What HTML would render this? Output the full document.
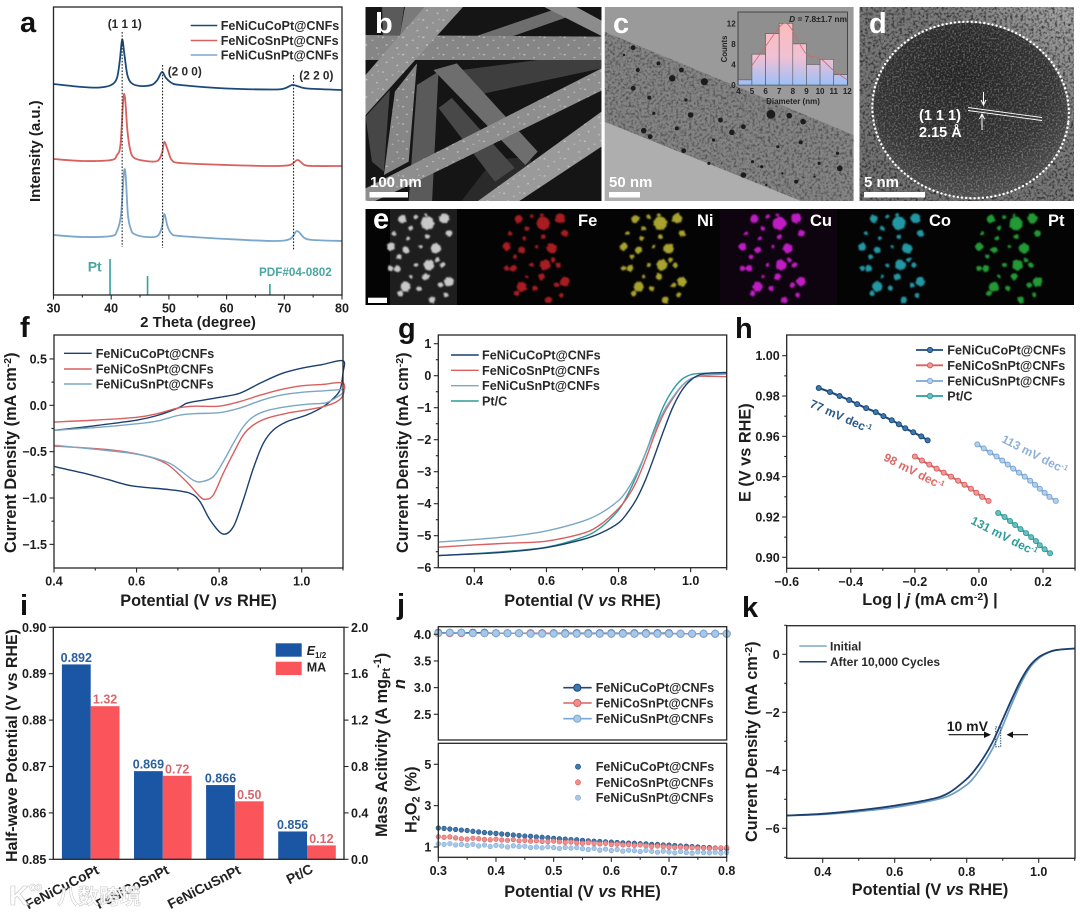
<!DOCTYPE html>
<html lang="en">
<head>
<meta charset="utf-8">
<title>FeNiCu alloy nanofiber catalyst characterization figure</title>
<style>
html,body{margin:0;padding:0;background:#fff;}
#figure{display:block;filter:blur(.35px);font-family:"Liberation Sans","Noto Sans CJK SC",sans-serif;font-weight:bold;}
.leg{font-size:12.6px;fill:#2a2a2a;}
.ttl{font-size:16.3px;fill:#1d1d1d;}
.tick{font-size:12.5px;fill:#1d1d1d;}
.let{font-size:29px;fill:#111;}
.letw{font-size:29px;fill:#fff;}
.wtxt{font-size:15px;fill:#fff;}
.el{font-size:16.5px;fill:#fff;}
</style>
</head>
<body>
<svg id="figure" xmlns="http://www.w3.org/2000/svg" width="1080" height="915" viewBox="0 0 1080 915">
<defs>
  <clipPath id="clipB"><rect x="365.500" y="7" width="236" height="194"/></clipPath>
  <clipPath id="clipC"><rect x="604.700" y="7" width="249" height="194"/></clipPath>
  <clipPath id="clipBand"><polygon points="604.700,31.700 853.600,135 853.600,201 801,201 604.700,121.700"/></clipPath>
  <clipPath id="clipD"><rect x="859.500" y="7" width="214.500" height="194"/></clipPath>
  <clipPath id="clipE"><rect x="365.500" y="209" width="708.500" height="96"/></clipPath>
  <clipPath id="clipDot"><ellipse cx="970.600" cy="110" rx="97" ry="87" transform="rotate(8 970.600 110)"/></clipPath>
  <pattern id="semDots" width="44" height="52" patternUnits="userSpaceOnUse">
    <circle cx="6" cy="8" r="2.400" fill="#dcdcdc"/><circle cx="27" cy="17" r="2.100" fill="#d4d4d4"/>
    <circle cx="14" cy="31" r="2.300" fill="#e0e0e0"/><circle cx="37" cy="40" r="2.400" fill="#d8d8d8"/>
    <circle cx="40" cy="6" r="1.800" fill="#d0d0d0"/>
  </pattern>
  <filter id="grainDark" x="0" y="0" width="100%" height="100%">
    <feTurbulence type="fractalNoise" baseFrequency=".38" numOctaves="2" seed="4"/>
    <feColorMatrix values="0 0 0 0 0  0 0 0 0 0  0 0 0 0 0  2.400 0 0 0 -1.050"/>
  </filter>
  <filter id="grainLight" x="0" y="0" width="100%" height="100%">
    <feTurbulence type="fractalNoise" baseFrequency=".55" numOctaves="2" seed="9"/>
    <feColorMatrix values="0 0 0 0 1  0 0 0 0 1  0 0 0 0 1  3 0 0 0 -1.350"/>
  </filter>
  <filter id="rough" x="-5%" y="-5%" width="110%" height="110%">
    <feTurbulence type="fractalNoise" baseFrequency=".35" numOctaves="2" seed="6" result="n"/>
    <feDisplacementMap in="SourceGraphic" in2="n" scale="3" xChannelSelector="R" yChannelSelector="G"/>
    <feGaussianBlur stdDeviation=".85"/>
  </filter>
  <radialGradient id="coreGrad" cx=".42" cy=".3" r=".8">
    <stop offset="0" stop-color="#222"/><stop offset=".6" stop-color="#333"/><stop offset="1" stop-color="#555"/>
  </radialGradient>
  <linearGradient id="dBack" x1="0" y1="1" x2="1" y2="0">
    <stop offset="0" stop-color="#707070"/><stop offset=".7" stop-color="#7c7c7c"/><stop offset="1" stop-color="#a8a8a8"/>
  </linearGradient>
  <linearGradient id="histGrad" gradientUnits="userSpaceOnUse" x1="0" y1="23" x2="0" y2="85">
    <stop offset="0" stop-color="#fcbcbc"/><stop offset=".55" stop-color="#f0c0d4"/><stop offset="1" stop-color="#9cc0f8"/>
  </linearGradient>
</defs>

<rect width="1080" height="915" fill="#fff"/>

<!-- Panel a -->
<g id="panelA">
  <text class="let" x="20" y="32">a</text>
  <text class="ttl" transform="translate(40 202) rotate(-90)" style="font-size:15px">Intensity (a.u.)</text>
  <text class="ttl" x="198" y="327" text-anchor="middle" style="font-size:15px">2 Theta (degree)</text>
  <text x="107.700" y="28" style="font-size:11.800px" fill="#2a2a2a">(1 1 1)</text>
  <text x="167.700" y="75.300" style="font-size:11.800px" fill="#2a2a2a">(2 0 0)</text>
  <text x="299.300" y="79.300" style="font-size:11.800px" fill="#2a2a2a">(2 2 0)</text>
  <text x="87.700" y="271.700" style="font-size:14px" fill="#4aa6a2">Pt</text>
  <text x="259" y="276" style="font-size:11.700px" fill="#4aa6a2">PDF#04-0802</text>
  <g>
    <line x1="190.700" x2="217.300" y1="25.500" y2="25.500" stroke="#1b4a7a" stroke-width="1.600"/>
    <text class="leg" x="220.700" y="30">FeNiCuCoPt@CNFs</text>
    <line x1="190.700" x2="217.300" y1="40.500" y2="40.500" stroke="#d9605f" stroke-width="1.600"/>
    <text class="leg" x="220.700" y="45">FeNiCoSnPt@CNFs</text>
    <line x1="190.700" x2="217.300" y1="55" y2="55" stroke="#7ba7cc" stroke-width="1.600"/>
    <text class="leg" x="220.700" y="59.500">FeNiCuSnPt@CNFs</text>
  </g>
</g>

<!-- Panel b -->
<g>
  <g clip-path="url(#clipB)">
    <rect x="365" y="7" width="237" height="194" fill="#151515"/>
    <g transform="translate(360 0) scale(.4591 .3333)">
      <polygon points="222,210 387,180 526,180 526,205 255,285" fill="#3e3e3e"/>
      <polygon points="220,605 290,480 370,470 380,520 300,605" fill="#2a2a2a"/>
      <polygon points="250,110 430,25 462,46 330,110" fill="#6e6e6e"/>
      <polygon points="400,20 470,20 526,62 526,108" fill="#8c8c8c"/>
      <polygon points="48,20 96,20 87,105 50,105" fill="#5a5a5a"/>
      <polygon points="98,20 141,20 98,105 87,105" fill="#7a7a7a"/>
      <polygon points="12,350 65,270 52,515 26,485" fill="#464646"/>
      <polygon points="171,324 200,294 337,504 294,545" fill="#484848"/>
      <polygon points="124,255 171,215 157,605 106,605" fill="#5a5a5a"/>
      <polygon points="160,210 211,190 387,455 360,495" fill="#6e6e6e"/>
      <polygon points="76,275 124,190 106,485 52,525" fill="#868686"/>
      <polygon points="12,105 526,110 526,180 12,180" fill="#868686"/>
      <polygon points="141,20 225,20 12,345 12,225" fill="#929292"/>
      <polygon points="526,205 526,272 100,560 30,605 12,605 12,565" fill="#8e8e8e"/>
      <polygon points="526,335 526,440 345,605 255,605" fill="#9a9a9a"/>
      <g fill="url(#semDots)" opacity=".6">
        <polygon points="12,105 526,110 526,180 12,180"/>
        <polygon points="141,20 225,20 12,345 12,225"/>
        <polygon points="526,205 526,272 100,560 30,605 12,605 12,565"/>
        <polygon points="526,335 526,440 345,605 255,605"/>
        <polygon points="76,275 124,190 106,485 52,525"/>
      </g>
    </g>
  </g>
  <text class="letw" x="375" y="33">b</text>
  <text class="wtxt" x="370" y="187">100 nm</text>
  <rect x="369.500" y="192" width="38.500" height="5.500" fill="#fff"/>
</g>

<!-- Panel c -->
<g id="panelC">
  <g clip-path="url(#clipC)">
    <rect x="604.700" y="7" width="249" height="194" fill="#9a9a9a"/>
    <polygon points="604.700,121.700 801,201 604.700,201" fill="#aeaeae"/>
    <polygon points="604.700,31.700 853.600,135 853.600,201 801,201 604.700,121.700" fill="#848484"/>
    <g clip-path="url(#clipBand)"><rect x="604.700" y="7" width="249" height="194" fill="#000" filter="url(#grainDark)" opacity=".45"/></g>
    <g id="temParticles"></g>
  </g>
  <text class="letw" x="613" y="33">c</text>
  <text class="wtxt" x="609" y="187">50 nm</text>
  <rect x="609" y="192" width="31" height="5.500" fill="#fff"/>
  <g id="histInset">
    <rect x="738" y="12" width="109.500" height="73" fill="#8f8f8f" stroke="#333" stroke-width=".8"/>
    <text x="847" y="22" text-anchor="end" style="font-size:8.300px" fill="#222"><tspan font-style="italic">D</tspan> = 7.8±1.7 nm</text>
    <text x="793" y="104" text-anchor="middle" style="font-size:8px" fill="#222">Diameter (nm)</text>
    <text text-anchor="middle" transform="translate(727 49) rotate(-90)" style="font-size:7.800px" fill="#222">Counts</text>
  </g>
</g>

<!-- Panel d -->
<g>
  <g clip-path="url(#clipD)">
    <rect x="859.500" y="7" width="214.500" height="194" fill="url(#dBack)"/>
    <rect x="859.500" y="7" width="214.500" height="194" fill="#000" filter="url(#grainDark)" opacity=".7"/>
    <ellipse cx="970.600" cy="110" rx="97" ry="87" transform="rotate(8 970.600 110)" fill="url(#coreGrad)"/>
    <g clip-path="url(#clipDot)"><rect x="859.500" y="7" width="214.500" height="194" fill="#fff" filter="url(#grainLight)" opacity=".3"/></g>
    <ellipse cx="970.600" cy="110" rx="98.500" ry="88" transform="rotate(8 970.600 110)" fill="none" stroke="#fff" stroke-width="2.300" stroke-linecap="round" stroke-dasharray="0.1 4.100"/>
  </g>
  <text class="letw" x="869" y="33">d</text>
  <text class="wtxt" x="864" y="187">5 nm</text>
  <rect x="864" y="192" width="61" height="5.500" fill="#fff"/>
  <line x1="968" y1="107.500" x2="1042" y2="117.500" stroke="#fff" stroke-width=".9"/>
  <line x1="968" y1="110.500" x2="1042" y2="120.500" stroke="#fff" stroke-width=".9"/>
  <path d="M983.500 92V104M981 100L983.500 105L986 100" fill="none" stroke="#fff" stroke-width="1"/>
  <path d="M982 130V115M979.500 119L982 114L984.500 119" fill="none" stroke="#fff" stroke-width="1"/>
  <text class="wtxt" x="919" y="120" style="font-size:14.500px">(1 1 1)</text>
  <text class="wtxt" x="919" y="137" style="font-size:14.500px">2.15 Å</text>
</g>

<!-- Panel e -->
<g id="panelE">
  <g clip-path="url(#clipE)">
    <rect x="365.500" y="209" width="708.500" height="96" fill="#040404"/>
    <rect x="390" y="209" width="67" height="96" fill="#1e1e1e"/>
    <rect x="720" y="209" width="117" height="96" fill="#0e040f"/>
    <g id="mapBlobs"></g>
  </g>
  <text class="letw" x="373" y="228.500">e</text>
  <rect x="368" y="297.700" width="19" height="5.300" fill="#fff"/>
  <text class="el" x="578" y="226">Fe</text>
  <text class="el" x="697" y="226">Ni</text>
  <text class="el" x="810" y="226">Cu</text>
  <text class="el" x="929" y="226">Co</text>
  <text class="el" x="1048" y="226">Pt</text>
</g>

<!-- Panel f -->
<g id="panelF">
  <text class="let" x="20" y="337">f</text>
  <text class="ttl" transform="translate(16 553) rotate(-90)">Current Density (mA cm<tspan dy="-5" font-size="10.500">-2</tspan><tspan dy="5">)</tspan></text>
  <text class="ttl" x="198.500" y="606" text-anchor="middle">Potential (V <tspan font-style="italic">vs</tspan> RHE)</text>
  <g>
    <line x1="64" x2="91.700" y1="353.300" y2="353.300" stroke="#1b3f6e" stroke-width="1.400"/>
    <text class="leg" x="95.700" y="358">FeNiCuCoPt@CNFs</text>
    <line x1="64" x2="91.700" y1="369" y2="369" stroke="#d9605f" stroke-width="1.400"/>
    <text class="leg" x="95.700" y="373.500">FeNiCoSnPt@CNFs</text>
    <line x1="64" x2="91.700" y1="384" y2="384" stroke="#7ba7c4" stroke-width="1.400"/>
    <text class="leg" x="95.700" y="388.700">FeNiCuSnPt@CNFs</text>
  </g>
</g>

<!-- Panel g -->
<g id="panelG">
  <text class="let" x="398" y="338">g</text>
  <text class="ttl" transform="translate(408 553) rotate(-90)">Current Density (mA cm<tspan dy="-5" font-size="10.500">-2</tspan><tspan dy="5">)</tspan></text>
  <text class="ttl" x="582.500" y="606" text-anchor="middle">Potential (V <tspan font-style="italic">vs</tspan> RHE)</text>
  <g>
    <line x1="451" x2="478.700" y1="355" y2="355" stroke="#1b3f6e" stroke-width="1.400"/>
    <text class="leg" x="482" y="359.500">FeNiCuCoPt@CNFs</text>
    <line x1="451" x2="478.700" y1="370.300" y2="370.300" stroke="#d9605f" stroke-width="1.400"/>
    <text class="leg" x="482" y="374.800">FeNiCoSnPt@CNFs</text>
    <line x1="451" x2="478.700" y1="385.700" y2="385.700" stroke="#7ba7c4" stroke-width="1.400"/>
    <text class="leg" x="482" y="390.200">FeNiCuSnPt@CNFs</text>
    <line x1="451" x2="478.700" y1="401" y2="401" stroke="#2f9c9a" stroke-width="1.400"/>
    <text class="leg" x="482" y="405.500">Pt/C</text>
  </g>
</g>

<!-- Panel h -->
<g id="panelH">
  <text class="let" x="735" y="338">h</text>
  <text class="ttl" transform="translate(750.700 502) rotate(-90)">E (V vs RHE)</text>
  <text class="ttl" x="930" y="605" text-anchor="middle">Log | <tspan font-style="italic">j</tspan> (mA cm<tspan dy="-5" font-size="10.500">-2</tspan><tspan dy="5">) |</tspan></text>
  <g>
    <line x1="916" x2="943" y1="350" y2="350" stroke="#1b4a7a" stroke-width="1.800"/>
    <circle cx="930" cy="350" r="2.600" fill="#3f78ad" stroke="#1b4a7a"/>
    <text class="leg" x="947.300" y="354.500">FeNiCuCoPt@CNFs</text>
    <line x1="916" x2="943" y1="365.300" y2="365.300" stroke="#d9605f" stroke-width="1.800"/>
    <circle cx="930" cy="365.300" r="2.600" fill="#ee9a98" stroke="#d9605f"/>
    <text class="leg" x="947.300" y="369.800">FeNiCoSnPt@CNFs</text>
    <line x1="916" x2="943" y1="381" y2="381" stroke="#7ba7d4" stroke-width="1.800"/>
    <circle cx="930" cy="381" r="2.600" fill="#b6d0ea" stroke="#7ba7d4"/>
    <text class="leg" x="947.300" y="385.500">FeNiCuSnPt@CNFs</text>
    <line x1="916" x2="943" y1="396" y2="396" stroke="#2f9c9a" stroke-width="1.800"/>
    <circle cx="930" cy="396" r="2.600" fill="#6cc0be" stroke="#2f9c9a"/>
    <text class="leg" x="947.300" y="400.500">Pt/C</text>
  </g>
  <text transform="translate(809 406.700) rotate(24)" style="font-size:12px" fill="#2a5a8a">77 mV dec<tspan dy="-4" font-size="7.500">-1</tspan></text>
  <text transform="translate(882.700 460) rotate(27)" style="font-size:12px" fill="#dc6a68">98 mV dec<tspan dy="-4" font-size="7.500">-1</tspan></text>
  <text transform="translate(1000.700 441.700) rotate(27)" style="font-size:12px" fill="#8fb0d6">113 mV dec<tspan dy="-4" font-size="7.500">-1</tspan></text>
  <text transform="translate(970 523.300) rotate(27)" style="font-size:12px" fill="#2f9c9a">131 mV dec<tspan dy="-4" font-size="7.500">-1</tspan></text>
</g>

<!-- Panel i -->
<g id="panelI">
  <text class="let" x="20" y="615">i</text>
  <text class="ttl" transform="translate(17 862) rotate(-90)" style="font-size:16px">Half-wave Potential (V vs RHE)</text>
  <text class="ttl" transform="translate(387 837) rotate(-90)">Mass Acitivity (A mg<tspan dy="3" font-size="11">Pt</tspan><tspan dy="-9" font-size="11">-1</tspan><tspan dy="6">)</tspan></text>
  <g>
    <rect x="275.700" y="643.300" width="26" height="13.400" fill="#1a56a4"/>
    <text x="306.700" y="655" style="font-size:12.500px" fill="#222"><tspan font-style="italic">E</tspan><tspan dy="3" font-size="8">1/2</tspan></text>
    <rect x="275.700" y="661.700" width="26" height="13.400" fill="#f9555a"/>
    <text x="306.700" y="671.700" style="font-size:12.500px" fill="#222">MA</text>
  </g>
  <text transform="translate(100 873) rotate(-27)" text-anchor="end" style="font-size:13.800px" fill="#222">FeNiCuCoPt</text>
  <text transform="translate(170 873) rotate(-27)" text-anchor="end" style="font-size:13.800px" fill="#222">FeNiCoSnPt</text>
  <text transform="translate(241.700 873) rotate(-27)" text-anchor="end" style="font-size:13.800px" fill="#222">FeNiCuSnPt</text>
  <text transform="translate(314 872) rotate(-27)" text-anchor="end" style="font-size:13.800px" fill="#222">Pt/C</text>
</g>

<!-- Panel j -->
<g id="panelJ">
  <text class="let" x="397" y="614">j</text>
  <text class="ttl" transform="translate(405 684) rotate(-90)" text-anchor="middle" font-style="italic">n</text>
  <text class="ttl" transform="translate(416.700 833) rotate(-90)">H<tspan dy="3" font-size="11">2</tspan><tspan dy="-3">O</tspan><tspan dy="3" font-size="11">2</tspan><tspan dy="-3"> (%)</tspan></text>
  <text class="ttl" x="582.500" y="897" text-anchor="middle">Potential (V <tspan font-style="italic">vs</tspan> RHE)</text>
</g>

<!-- Panel k -->
<g id="panelK">
  <text class="let" x="742" y="617">k</text>
  <text class="ttl" transform="translate(757 842) rotate(-90)">Current Density (mA cm<tspan dy="-5" font-size="10.500">-2</tspan><tspan dy="5">)</tspan></text>
  <text class="ttl" x="930" y="895" text-anchor="middle">Potential (V <tspan font-style="italic">vs</tspan> RHE)</text>
  <g>
    <line x1="799.300" x2="826.700" y1="646" y2="646" stroke="#7ba7c4" stroke-width="1.500"/>
    <text class="leg" x="830" y="650.500" style="font-size:12px">Initial</text>
    <line x1="799.300" x2="826.700" y1="661.700" y2="661.700" stroke="#1b3f6e" stroke-width="1.500"/>
    <text class="leg" x="830" y="666.200" style="font-size:12px">After 10,000 Cycles</text>
  </g>
  <text x="946.700" y="731" style="font-size:14px" fill="#1d1d1d">10 mV</text>
</g>

<!-- Watermark -->
<g opacity=".88">
  <text x="9" y="905" style="font-size:28px" fill="#fff" stroke="#bbb" stroke-width=".6">K</text>
  <text x="29" y="893" style="font-size:19px" fill="#fff" stroke="#bbb" stroke-width=".5">∞</text>
  <text x="57" y="904" style="font-size:21px" fill="#fff" stroke="#bbb" stroke-width=".5">八数跨境</text>
</g>
</svg>

<script>
/* ---------- Panel a: XRD ---------- */
const xrdAngleBlue = [30,35,38,40,41,41.5,41.9,42.3,42.8,43.5,45,47,48,48.8,49.5,50.5,52,60,68,70,71.4,72.5,74,80];
const xrdIntensityBlue = [211,208,207.5,210,217,235,255.5,240,220,212,209,210,215,223,217,212,210,206.5,205.5,206.5,210,208.5,206.5,205];
const xrdAngleRed = [30,35,40,41,41.6,42.1,42.4,42.8,43.3,44,46,48,48.8,49.2,49.8,50.5,52,60,68,71,72.3,73.5,75,80];
const xrdIntensityRed = [136,134,135,140,150,196,197,165,145,137,134,134,142,153,145,135,132,130,129,130,135,130,129,129];
const xrdAngleLight = [30,35,40,41,41.7,42.2,42.5,42.9,43.4,44,46,48,48.8,49.2,49.8,50.5,52,60,68,71,72.2,73.5,75,80];
const xrdIntensityLight = [60,58,59,64,80,122,120,80,66,61,58,59,68,81,68,61,59,56,54,56,64,57,55,54];
const xrdPeakAngles = [41.9,48.9,71.6];
const xrdPeakTops = [263,230,220];
const xrdPeakBottoms = [48,47,45];
const ptRefAngles = [39.8,46.3,67.5];
const ptRefHeights = [36,19,11];
const aTicksX = [30,40,50,60,70,80];
const aLabelsX = ['30','40','50','60','70','80'];
const aMinorX = [35,45,55,65,75];

/* ---------- Panel c inset ---------- */
const histBinStarts = [4,5,6,7,8,9,10,11];
const histCounts = [1,6,10,12,8,4,5,2];
const histFitBins = [5,6,7,7.5,8,9,10,11,12];
const histFitCounts = [3.8,7.5,11.2,12,10.5,6,5.2,2.8,1];
const histTicksX = [4,5,6,7,8,9,10,11,12];
const histTicksY = [0,4,8,12];

/* ---------- Panel f: CV ---------- */
const cvVBlue = [0.4,0.5,0.6,0.65,0.7,0.72,0.74,0.8,0.85,0.9,0.95,1.0,1.05,1.1,1.1,1.0928,1.0766,1.052,1.012,0.9637,0.9313,0.907,0.8828,0.8586,0.8344,0.8087,0.778,0.7537,0.73,0.68,0.59,0.53,0.47,0.4];
const cvJBlue = [-0.27,-0.22,-0.16,-0.11,-0.03,0.02,0.04,0.085,0.13,0.24,0.34,0.40,0.44,0.48,0.35,0.165,0.075,-0.015,-0.105,-0.177,-0.266,-0.41,-0.68,-1.02,-1.31,-1.388,-1.237,-1.04,-0.95,-0.91,-0.87,-0.80,-0.73,-0.66];
const cvVRed = [0.4,0.5,0.6,0.65,0.7,0.74,0.8,0.85,0.9,0.95,1.0,1.05,1.1,1.1,1.085,1.052,1.012,0.9637,0.9152,0.8828,0.8586,0.8344,0.81,0.786,0.768,0.7537,0.72,0.672,0.616,0.535,0.4];
const cvJRed = [-0.18,-0.16,-0.13,-0.09,-0.03,-0.01,-0.01,0.04,0.11,0.17,0.21,0.225,0.24,0.11,0.04,-0.015,-0.05,-0.086,-0.14,-0.2125,-0.32,-0.518,-0.734,-0.968,-1.014,-0.986,-0.82,-0.63,-0.54,-0.48,-0.44];
const cvVLight = [0.4,0.5,0.6,0.65,0.7,0.74,0.8,0.85,0.9,0.95,1.0,1.05,1.1,1.1,1.093,1.06,1.02,0.9637,0.9152,0.8828,0.8586,0.8344,0.81,0.786,0.7578,0.738,0.705,0.672,0.59,0.4];
const cvJLight = [-0.27,-0.24,-0.20,-0.17,-0.11,-0.09,-0.08,-0.03,0.05,0.11,0.14,0.155,0.17,0.14,0.11,0.028,0.014,-0.015,-0.058,-0.123,-0.23,-0.41,-0.608,-0.77,-0.824,-0.81,-0.70,-0.61,-0.52,-0.43];
const fTicksX = [0.4,0.6,0.8,1.0];
const fLabelsX = ['0.4','0.6','0.8','1.0'];
const fMinorX = [0.5,0.7,0.9,1.1];
const fTicksY = [0.5,0,-0.5,-1,-1.5];
const fLabelsY = ['0.5','0.0','−0.5','−1.0','−1.5'];
const fMinorY = [0.25,-0.25,-0.75,-1.25];

/* ---------- Panel g: LSV ---------- */
const lsvPotential = [0.3,0.4,0.5,0.6,0.7,0.75,0.8,0.825,0.85,0.875,0.9,0.925,0.95,0.975,1.0,1.025,1.05,1.1];
const lsvBlue = [-5.62,-5.57,-5.50,-5.37,-5.12,-4.92,-4.6,-4.28,-3.85,-3.25,-2.5,-1.72,-1.0,-0.47,-0.14,0.03,0.08,0.10];
const lsvRed = [-5.36,-5.29,-5.23,-5.17,-4.93,-4.65,-4.15,-3.8,-3.3,-2.62,-1.85,-1.2,-0.72,-0.33,-0.10,-0.02,-0.02,-0.03];
const lsvLight = [-5.2,-5.12,-5.02,-4.85,-4.55,-4.3,-3.9,-3.55,-3.05,-2.42,-1.72,-1.12,-0.68,-0.32,-0.10,0,0.03,0.05];
const lsvPtC = [-5.62,-5.56,-5.48,-5.36,-5.05,-4.75,-4.2,-3.72,-3.12,-2.42,-1.65,-0.95,-0.45,-0.12,0.03,0.07,0.08,0.08];
const gTicksX = [0.4,0.6,0.8,1.0];
const gLabelsX = ['0.4','0.6','0.8','1.0'];
const gMinorX = [0.5,0.7,0.9,1.1];
const gTicksY = [1,0,-1,-2,-3,-4,-5,-6];
const gLabelsY = ['1','0','−1','−2','−3','−4','−5','−6'];
const gMinorY = [0.5,-0.5,-1.5,-2.5,-3.5,-4.5,-5.5];

/* ---------- Panel h: Tafel ---------- */
const tafelLogBlue = [-0.5,-0.465,-0.435,-0.405,-0.38,-0.352,-0.322,-0.298,-0.272,-0.25,-0.23,-0.205,-0.18,-0.16];
const tafelEBlue = [0.984,0.982,0.98,0.978,0.976,0.974,0.972,0.97,0.968,0.966,0.964,0.962,0.96,0.958];
const tafelLogRed = [-0.2,-0.178,-0.155,-0.132,-0.11,-0.087,-0.065,-0.045,-0.025,-0.008,0.01,0.03];
const tafelERed = [0.95,0.948,0.946,0.944,0.942,0.94,0.938,0.936,0.934,0.932,0.93,0.928];
const tafelLogLight = [-0.005,0.015,0.035,0.055,0.073,0.09,0.107,0.125,0.143,0.16,0.175,0.19,0.205,0.22,0.24];
const tafelELight = [0.956,0.954,0.952,0.95,0.948,0.946,0.944,0.942,0.94,0.938,0.936,0.934,0.932,0.93,0.928];
const tafelLogPt = [0.06,0.08,0.097,0.113,0.13,0.147,0.163,0.178,0.19,0.205,0.222];
const tafelEPt = [0.922,0.92,0.918,0.916,0.914,0.912,0.91,0.908,0.906,0.904,0.902];
const hTicksX = [-0.6,-0.4,-0.2,0,0.2];
const hLabelsX = ['−0.6','−0.4','−0.2','0.0','0.2'];
const hMinorX = [-0.5,-0.3,-0.1,0.1,0.3];
const hTicksY = [1,0.98,0.96,0.94,0.92,0.9];
const hLabelsY = ['1.00','0.98','0.96','0.94','0.92','0.90'];
const hMinorY = [0.99,0.97,0.95,0.93,0.91];

/* ---------- Panel i: bars ---------- */
const catalysts = ['FeNiCuCoPt','FeNiCoSnPt','FeNiCuSnPt','Pt/C'];
const halfWave = [0.892,0.869,0.866,0.856];
const massActivity = [1.32,0.72,0.50,0.12];
const iTicksLeft = [0.85,0.86,0.87,0.88,0.89,0.90];
const iLabelsLeft = ['0.85','0.86','0.87','0.88','0.89','0.90'];
const iTicksRight = [0,0.4,0.8,1.2,1.6,2.0];
const iLabelsRight = ['0.0','0.4','0.8','1.2','1.6','2.0'];

/* ---------- Panel j: RRDE ---------- */
const nPotential = [0.30,0.32,0.34,0.36,0.38,0.40,0.42,0.44,0.46,0.48,0.50,0.52,0.54,0.56,0.58,0.60,0.62,0.64,0.66,0.68,0.70,0.72,0.74,0.76,0.78,0.80];
const nBlue = [4.03,4.03,4.03,4.03,4.03,4.02,4.02,4.02,4.02,4.02,4.02,4.02,4.02,4.02,4.02,4.02,4.02,4.02,4.02,4.02,4.02,4.01,4.01,4.01,4.01,4.01];
const nRed = [4.02,4.02,4.02,4.02,4.02,4.02,4.02,4.02,4.02,4.02,4.02,4.01,4.01,4.01,4.01,4.01,4.01,4.01,4.01,4.01,4.01,4.01,4.01,4.01,4.01,4.01];
const nLight = [4.02,4.03,4.03,4.02,4.02,4.02,4.02,4.02,4.01,4.01,4.01,4.01,4.01,4.01,4.01,4.01,4.01,4.01,4.01,4.01,4.01,4.01,4.01,4.01,4.01,4.01];
const peroxidePotential = [0.30,0.31,0.32,0.33,0.34,0.35,0.36,0.37,0.38,0.39,0.40,0.41,0.42,0.43,0.44,0.45,0.46,0.47,0.48,0.49,0.50,0.51,0.52,0.53,0.54,0.55,0.56,0.57,0.58,0.59,0.60,0.61,0.62,0.63,0.64,0.65,0.66,0.67,0.68,0.69,0.70,0.71,0.72,0.73,0.74,0.75,0.76,0.77,0.78,0.79,0.80];
const peroxideBlue = [1.92,1.90,1.87,1.85,1.82,1.80,1.76,1.73,1.70,1.68,1.66,1.63,1.61,1.58,1.56,1.53,1.52,1.49,1.47,1.45,1.42,1.40,1.38,1.36,1.35,1.32,1.30,1.28,1.27,1.25,1.24,1.22,1.20,1.19,1.18,1.16,1.15,1.13,1.12,1.10,1.09,1.07,1.05,1.04,1.02,1.00,0.98,0.97,0.95,0.94,0.93];
const peroxideRed = [1.50,1.47,1.49,1.44,1.40,1.38,1.42,1.40,1.37,1.35,1.38,1.34,1.33,1.36,1.30,1.32,1.28,1.30,1.27,1.26,1.29,1.25,1.22,1.24,1.20,1.18,1.21,1.17,1.15,1.18,1.12,1.14,1.10,1.12,1.08,1.10,1.06,1.03,1.05,1.02,1.00,0.98,1.00,0.96,0.97,0.94,0.95,0.93,0.94,0.96,0.98];
const peroxideLight = [1.15,1.13,1.16,1.10,1.12,1.08,1.13,1.05,1.10,1.02,1.08,1.05,1.00,1.06,1.02,1.04,0.98,1.00,0.96,1.01,0.97,0.93,0.98,0.95,0.97,0.92,0.88,0.93,0.85,0.90,0.83,0.88,0.80,0.85,0.82,0.78,0.84,0.79,0.75,0.80,0.76,0.72,0.78,0.74,0.70,0.76,0.73,0.72,0.75,0.71,0.74];
const jTicksX = [0.3,0.4,0.5,0.6,0.7,0.8];
const jLabelsX = ['0.3','0.4','0.5','0.6','0.7','0.8'];
const jMinorX = [0.35,0.45,0.55,0.65,0.75];
const jTicksTop = [4,3.5,3,2.5];
const jLabelsTop = ['4.0','3.5','3.0','2.5'];
const jTicksBottom = [5,3,1];
const jLabelsBottom = ['5','3','1'];

/* ---------- Panel k: stability ---------- */
const stabPotential = [0.3,0.4,0.5,0.6,0.7,0.75,0.8,0.825,0.85,0.875,0.9,0.925,0.95,0.975,1.0,1.025,1.05,1.1];
const stabInitial = [-5.56,-5.52,-5.42,-5.28,-5.05,-4.88,-4.5,-4.17,-3.72,-3.17,-2.47,-1.72,-1.02,-0.47,-0.14,0.05,0.15,0.2];
const stabAfter = [-5.56,-5.50,-5.38,-5.22,-5.0,-4.78,-4.3,-3.95,-3.5,-2.95,-2.25,-1.55,-0.9,-0.4,-0.10,0.06,0.15,0.2];
const kTicksX = [0.4,0.6,0.8,1.0];
const kLabelsX = ['0.4','0.6','0.8','1.0'];
const kMinorX = [0.5,0.7,0.9,1.1];
const kTicksY = [0,-2,-4,-6];
const kLabelsY = ['0','−2','−4','−6'];
const kMinorY = [1,-1,-3,-5,-7];

/* ---------- Micrograph decoration lists (not chart data) ---------- */
const temSpots = [[595,143,6],[605,210,5],[700,210,6],[680,235,8],[750,245,9],[595,265,6],[630,293,5],[720,345,7],[895,343,11],[935,347,7],[965,365,7],[810,397,7],[835,380,6],[618,392,7],[632,410,6],[960,427,5],[1045,505,7],[835,525,7],[875,500,4],[705,452,6],[760,490,4],[855,485,4],[950,545,5],[1000,490,4],[785,360,6],[650,190,5],[710,300,4],[575,165,3],[640,340,4],[690,385,5],[910,440,4],[885,555,3],[1040,460,4],[990,530,3],[770,420,4],[920,520,3]];
const mapSpots = [[200,55,20],[125,42,12],[250,40,15],[90,125,12],[143,100,6],[135,135,10],[225,130,15],[205,180,16],[110,190,10],[195,215,10],[135,245,15],[245,180,8],[265,85,10],[265,230,14],[240,240,8],[115,155,7],[165,180,6],[90,190,8],[175,250,8],[215,285,10],[200,95,7],[150,70,7],[120,265,8],[100,85,6],[180,125,5],[165,35,6],[230,165,7],[255,270,7],[195,30,5],[150,215,5]];
const mapPanels = [[389,'#c8c8c8'],[505,'#a81c22'],[622,'#a8a22e'],[741,'#c01cc4'],[860.5,'#2498a4'],[977.5,'#229a34']];

/* ---------- Helpers ---------- */
const NS = 'http://www.w3.org/2000/svg';
function add(parent, tag, attrs, name) {
  const el = document.createElementNS(NS, tag);
  for (const k in attrs) el.setAttribute(k, attrs[k]);
  
  
  parent.appendChild(el);
  return el;
}
function linear(d0, d1, r0, r1) {
  return v => r0 + (v - d0) * (r1 - r0) / (d1 - d0);
}
function smoothPath(pts, k) {
  let d = 'M' + pts[0][0].toFixed(2) + ' ' + pts[0][1].toFixed(2);
  for (let i = 0; i < pts.length - 1; i++) {
    const p0 = pts[Math.max(i - 1, 0)], p1 = pts[i], p2 = pts[i + 1], p3 = pts[Math.min(i + 2, pts.length - 1)];
    const c1x = p1[0] + (p2[0] - p0[0]) * k, c1y = p1[1] + (p2[1] - p0[1]) * k;
    const c2x = p2[0] - (p3[0] - p1[0]) * k, c2y = p2[1] - (p3[1] - p1[1]) * k;
    d += 'C' + c1x.toFixed(2) + ' ' + c1y.toFixed(2) + ' ' + c2x.toFixed(2) + ' ' + c2y.toFixed(2) + ' ' + p2[0].toFixed(2) + ' ' + p2[1].toFixed(2);
  }
  return d;
}
function drawCurve(parent, xs, ys, sx, sy, color, width, name) {
  const pts = xs.map((x, i) => [sx(x), sy(ys[i])]);
  return add(parent, 'path', {d: smoothPath(pts, 0.16), fill: 'none', stroke: color, 'stroke-width': width, 'stroke-linejoin': 'round'}, name);
}
function drawFrame(parent, l, t, r, b) {
  add(parent, 'rect', {x: l, y: t, width: r - l, height: b - t, fill: 'none', stroke: '#262626', 'stroke-width': 1.3}, 'plot-frame');
}
function drawAxis(parent, scale, side, fixed, majors, labels, minors, name) {
  const g = add(parent, 'g', {}, name);
  const dir = (side === 'bottom' || side === 'right') ? 1 : -1;
  const horiz = side === 'bottom';
  const tick = (v, len, nm) => {
    const p = scale(v);
    add(g, 'line', horiz ? {x1: p, x2: p, y1: fixed, y2: fixed + dir * len} : {y1: p, y2: p, x1: fixed, x2: fixed + dir * len}, nm);
    g.lastChild.setAttribute('stroke', '#262626');
    g.lastChild.setAttribute('stroke-width', '1.1');
  };
  majors.forEach((v, i) => {
    tick(v, 4.5, 'major-tick');
    const p = scale(v);
    const at = horiz ? {x: p, y: fixed + 17.5, 'text-anchor': 'middle', class: 'tick'}
      : {x: fixed + dir * 7, y: p + 4.5, 'text-anchor': side === 'left' ? 'end' : 'start', class: 'tick'};
    const t = add(g, 'text', at, 'tick-label');
    t.textContent = labels[i];
  });
  (minors || []).forEach(v => tick(v, 2.5, 'minor-tick'));
}

/* ---------- Draw a ---------- */
(function () {
  const p = document.getElementById('panelA');
  const sx = linear(30, 80, 53.5, 342), sy = linear(0, 288, 295, 7);
  const series = add(p, 'g', {}, 'xrd-series');
  drawCurve(series, xrdAngleBlue, xrdIntensityBlue, sx, sy, '#1b4a7a', 1.8, 'xrd-line-fenicucopt');
  drawCurve(series, xrdAngleRed, xrdIntensityRed, sx, sy, '#d9605f', 1.8, 'xrd-line-fenicosnpt');
  drawCurve(series, xrdAngleLight, xrdIntensityLight, sx, sy, '#7ba7cc', 1.8, 'xrd-line-fenicusnpt');
  xrdPeakAngles.forEach((a, i) => {
    add(series, 'line', {x1: sx(a), x2: sx(a), y1: sy(xrdPeakTops[i]), y2: sy(xrdPeakBottoms[i]), stroke: '#222', 'stroke-width': 1.1, 'stroke-dasharray': '1.6 1.6'}, 'peak-guide');
  });
  ptRefAngles.forEach((a, i) => {
    add(series, 'line', {x1: sx(a), x2: sx(a), y1: 295, y2: 295 - ptRefHeights[i], stroke: '#35a09c', 'stroke-width': 1.6}, 'pt-reference-tick');
  });
  drawFrame(p, 53.5, 7, 342, 295);
  drawAxis(p, sx, 'bottom', 295, aTicksX, aLabelsX, aMinorX, 'x-axis');
})();

/* ---------- Draw c inset and particles ---------- */
(function () {
  const spots = document.getElementById('temParticles');
  temSpots.forEach(s => {
    add(spots, 'circle', {cx: 360 + s[0] / 2.178, cy: s[1] / 3, r: s[2] / 2.500, fill: '#1c1c1c'}, 'nanoparticle');
  });
  const p = document.getElementById('histInset');
  const sx = linear(4, 12, 738.3, 847.3), sy = linear(0, 12, 85, 23.3);
  histBinStarts.forEach((b, i) => {
    add(p, 'rect', {x: sx(b), y: sy(histCounts[i]), width: sx(b + 1) - sx(b), height: 85 - sy(histCounts[i]), fill: 'url(#histGrad)', stroke: '#555', 'stroke-width': .6}, 'histogram-bar');
  });
  const fit = histFitBins.map((b, i) => [sx(b), sy(histFitCounts[i])]);
  add(p, 'path', {d: smoothPath(fit, 0.16), fill: 'none', stroke: '#c96a6a', 'stroke-width': .8}, 'histogram-fit-curve');
  histTicksX.forEach(v => {
    const t = add(p, 'text', {x: sx(v), y: 94, 'text-anchor': 'middle'}, 'histogram-x-tick');
    t.setAttribute('style', 'font-size:8px');
    t.setAttribute('fill', '#222');
    t.textContent = v;
  });
  histTicksY.forEach(v => {
    const t = add(p, 'text', {x: 735.7, y: sy(v) + 3, 'text-anchor': 'end'}, 'histogram-y-tick');
    t.setAttribute('style', 'font-size:8px');
    t.setAttribute('fill', '#222');
    t.textContent = v;
  });
})();

/* ---------- Draw e blobs ---------- */
(function () {
  const g = document.getElementById('mapBlobs');
  mapPanels.forEach(panel => {
    const grp = add(g, 'g', {filter: 'url(#rough)', fill: panel[1]}, 'element-map');
    mapSpots.forEach(s => {
      add(grp, 'circle', {cx: panel[0] + (s[0] - 85) / 3, cy: 205 + s[1] / 3, r: s[2] / 3}, 'map-blob');
    });
  });
})();

/* ---------- Draw f ---------- */
(function () {
  const p = document.getElementById('panelF');
  const sx = linear(0.4, 1.0, 54, 301.7), sy = linear(0, -1, 405.3, 498);
  drawCurve(p, cvVBlue, cvJBlue, sx, sy, '#1b3f6e', 1.4, 'cv-line-fenicucopt');
  drawCurve(p, cvVRed, cvJRed, sx, sy, '#d9605f', 1.4, 'cv-line-fenicosnpt');
  drawCurve(p, cvVLight, cvJLight, sx, sy, '#7ba7c4', 1.4, 'cv-line-fenicusnpt');
  drawFrame(p, 54, 335, 343, 568);
  drawAxis(p, sx, 'bottom', 568, fTicksX, fLabelsX, fMinorX, 'x-axis');
  drawAxis(p, sy, 'left', 54, fTicksY, fLabelsY, fMinorY, 'y-axis');
})();

/* ---------- Draw g ---------- */
(function () {
  const p = document.getElementById('panelG');
  const sx = linear(0.3, 1.1, 438.3, 726.7), sy = linear(0, -6, 375.7, 567.7);
  drawCurve(p, lsvPotential, lsvPtC, sx, sy, '#2f9c9a', 1.4, 'lsv-line-ptc');
  drawCurve(p, lsvPotential, lsvRed, sx, sy, '#d9605f', 1.4, 'lsv-line-fenicosnpt');
  drawCurve(p, lsvPotential, lsvLight, sx, sy, '#7ba7c4', 1.4, 'lsv-line-fenicusnpt');
  drawCurve(p, lsvPotential, lsvBlue, sx, sy, '#1b3f6e', 1.4, 'lsv-line-fenicucopt');
  drawFrame(p, 438.3, 335, 726.7, 567.7);
  drawAxis(p, sx, 'bottom', 567.7, gTicksX, gLabelsX, gMinorX, 'x-axis');
  drawAxis(p, sy, 'left', 438.3, gTicksY, gLabelsY, gMinorY, 'y-axis');
})();

/* ---------- Draw h ---------- */
(function () {
  const p = document.getElementById('panelH');
  const sx = linear(-0.6, 0.2, 786.7, 1043), sy = linear(0.9, 1.0, 557.3, 355.7);
  const sets = [
    [tafelLogBlue, tafelEBlue, '#1b4a7a', '#3f78ad', 'fenicucopt'],
    [tafelLogRed, tafelERed, '#d9605f', '#ee9a98', 'fenicosnpt'],
    [tafelLogLight, tafelELight, '#7ba7d4', '#b6d0ea', 'fenicusnpt'],
    [tafelLogPt, tafelEPt, '#2f9c9a', '#6cc0be', 'ptc']
  ];
  sets.forEach(s => {
    drawCurve(p, s[0], s[1], sx, sy, s[2], 2.1, 'tafel-line-' + s[4]);
    s[0].forEach((x, i) => {
      add(p, 'circle', {cx: sx(x), cy: sy(s[1][i]), r: 2.5, fill: s[3], stroke: s[2], 'stroke-width': 1}, 'tafel-point-' + s[4]);
    });
  });
  drawFrame(p, 786.7, 335, 1075, 568.3);
  drawAxis(p, sx, 'bottom', 568.3, hTicksX, hLabelsX, hMinorX, 'x-axis');
  drawAxis(p, sy, 'left', 786.7, hTicksY, hLabelsY, hMinorY, 'y-axis');
})();

/* ---------- Draw i ---------- */
(function () {
  const p = document.getElementById('panelI');
  const sLeft = linear(0.85, 0.90, 859.3, 627.3), sRight = linear(0, 2, 859.3, 627.3);
  const center = i => 90.7 + 72.1 * i;
  const barW = 28.8;
  catalysts.forEach((c, i) => {
    const yE = sLeft(halfWave[i]), yM = sRight(massActivity[i]);
    add(p, 'rect', {x: center(i) - barW, y: yE, width: barW, height: 859.3 - yE, fill: '#1a56a4'}, 'bar-e12-' + i);
    add(p, 'rect', {x: center(i), y: yM, width: barW, height: 859.3 - yM, fill: '#f9555a'}, 'bar-ma-' + i);
    const a = add(p, 'text', {x: center(i) - barW / 2, y: yE - 2.5, 'text-anchor': 'middle', fill: '#2a5f9e'}, 'value-label-e12');
    a.setAttribute('style', 'font-size:12.5px');
    a.textContent = halfWave[i].toFixed(3);
    const b = add(p, 'text', {x: center(i) + barW / 2, y: yM - 2.5, 'text-anchor': 'middle', fill: '#d9686c'}, 'value-label-ma');
    b.setAttribute('style', 'font-size:12.5px');
    b.textContent = massActivity[i].toFixed(2);
  });
  drawFrame(p, 53.3, 627.3, 344, 859.3);
  drawAxis(p, sLeft, 'left', 53.3, iTicksLeft, iLabelsLeft, [], 'left-y-axis');
  drawAxis(p, sRight, 'right', 344, iTicksRight, iLabelsRight, [], 'right-y-axis');
})();

/* ---------- Draw j ---------- */
(function () {
  const p = document.getElementById('panelJ');
  const sx = linear(0.3, 0.8, 438.3, 726.7);
  const syTop = linear(4, 2.5, 634.3, 714.3), syBot = linear(5, 1, 764.3, 847);
  const legendTop = add(p, 'g', {}, 'legend-n');
  const names = ['FeNiCuCoPt@CNFs', 'FeNiCoSnPt@CNFs', 'FeNiCuSnPt@CNFs'];
  const colors = ['#1b4a7a', '#d9605f', '#7ba7d4'];
  const fills = ['#3f78ad', '#ee8f8d', '#a8c8e8'];
  const yRowsTop = [687.7, 703, 718.7];
  const yRowsBot = [766.7, 782.3, 797.7];
  [nBlue, nRed, nLight].forEach((vals, s) => {
    drawCurve(p, nPotential, vals, sx, syTop, colors[s], 1.3, 'n-line-' + s);
    vals.forEach((v, i) => {
      add(p, 'circle', {cx: sx(nPotential[i]), cy: syTop(v), r: 3.5, fill: fills[s], stroke: colors[s], 'stroke-width': 1}, 'n-point-' + s);
    });
  });
  [peroxideBlue, peroxideRed, peroxideLight].forEach((vals, s) => {
    vals.forEach((v, i) => {
      add(p, 'circle', {cx: sx(peroxidePotential[i]), cy: syBot(v), r: 2.3, fill: fills[s], stroke: colors[s], 'stroke-width': .6}, 'h2o2-point-' + s);
    });
  });
  names.forEach((nm, s) => {
    add(legendTop, 'line', {x1: 563.3, x2: 591.7, y1: yRowsTop[s], y2: yRowsTop[s], stroke: colors[s], 'stroke-width': 1.6}, 'legend-line');
    add(legendTop, 'circle', {cx: 577.3, cy: yRowsTop[s], r: 3.6, fill: fills[s], stroke: colors[s]}, 'legend-marker');
    const t1 = add(legendTop, 'text', {x: 595.7, y: yRowsTop[s] + 4.5, class: 'leg'}, 'legend-entry');
    t1.textContent = nm;
    add(legendTop, 'circle', {cx: 578, cy: yRowsBot[s], r: 2.6, fill: fills[s], stroke: colors[s], 'stroke-width': .6}, 'legend-marker');
    const t2 = add(legendTop, 'text', {x: 595.7, y: yRowsBot[s] + 4.5, class: 'leg'}, 'legend-entry');
    t2.textContent = nm;
  });
  drawFrame(p, 438.3, 626.7, 726.7, 740);
  drawFrame(p, 438.3, 743.3, 726.7, 857.3);
  drawAxis(p, sx, 'bottom', 857.3, jTicksX, jLabelsX, jMinorX, 'x-axis');
  drawAxis(p, syTop, 'left', 438.3, jTicksTop, jLabelsTop, [], 'n-axis');
  drawAxis(p, syBot, 'left', 438.3, jTicksBottom, jLabelsBottom, [], 'h2o2-axis');
})();

/* ---------- Draw k ---------- */
(function () {
  const p = document.getElementById('panelK');
  const sx = linear(0.4, 1.0, 822.7, 1038.7), sy = linear(0, -6, 654.3, 828.3);
  drawCurve(p, stabPotential, stabInitial, sx, sy, '#6f9fc4', 1.7, 'stability-line-initial');
  drawCurve(p, stabPotential, stabAfter, sx, sy, '#1b3f6e', 1.8, 'stability-line-after-cycles');
  const arrows = add(p, 'g', {fill: '#111', stroke: '#111'}, 'shift-arrows');
  add(arrows, 'line', {x1: 948.7, x2: 986, y1: 734.7, y2: 734.7, 'stroke-width': 1.2}, 'shift-arrow-left');
  add(arrows, 'polygon', {points: '984,731.5 991,734.7 984,738', stroke: 'none'}, 'shift-arrowhead-left');
  add(arrows, 'line', {x1: 1028, x2: 1011, y1: 734.7, y2: 734.7, 'stroke-width': 1.2}, 'shift-arrow-right');
  add(arrows, 'polygon', {points: '1013,731.5 1006.5,734.7 1013,738', stroke: 'none'}, 'shift-arrowhead-right');
  add(p, 'rect', {x: 995.7, y: 727, width: 5, height: 19.7, fill: 'none', stroke: '#1b3f6e', 'stroke-width': 1, 'stroke-dasharray': '1.3 1.3'}, 'half-wave-marker');
  drawFrame(p, 786.7, 625.7, 1075, 858.3);
  drawAxis(p, sx, 'bottom', 858.3, kTicksX, kLabelsX, kMinorX, 'x-axis');
  drawAxis(p, sy, 'left', 786.7, kTicksY, kLabelsY, kMinorY, 'y-axis');
})();
</script>
</body>
</html>
